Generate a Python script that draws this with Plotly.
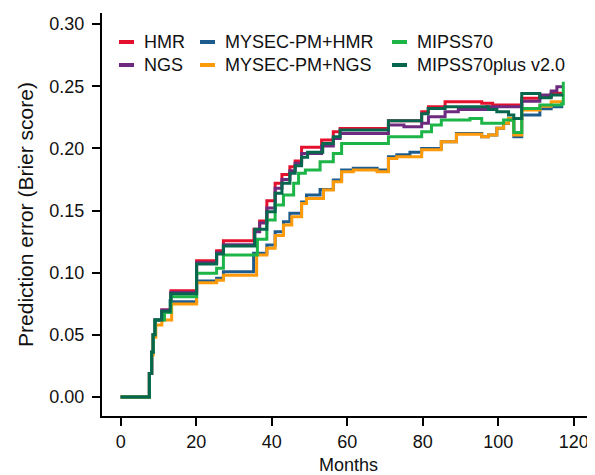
import plotly.graph_objects as go

# ---- data (months, Brier score) ----
hmr_months = [0, 7.6, 8.2, 8.6, 9.1, 10.9, 13.3, 20.1, 25.4, 27.2, 35.3, 36.8, 38.7, 40.9, 42.7,
              44.8, 46.2, 47.9, 53.2, 56.3, 58.1, 70.9, 79.7, 81.5, 85.9, 95.6, 98.5, 106.2, 111.0,
              114.0, 117.2]
hmr_vals = [0, 0.019, 0.036, 0.050, 0.062, 0.070, 0.0855, 0.1097, 0.1177, 0.1258, 0.135, 0.1416,
            0.158, 0.172, 0.179, 0.1853, 0.190, 0.2009, 0.2068, 0.2135, 0.216, 0.2223, 0.2295,
            0.2336, 0.2376, 0.2363, 0.235, 0.2403, 0.2416, 0.2445, 0.2445]

ngs_months = [0, 7.6, 8.2, 8.6, 9.1, 10.9, 13.3, 20.1, 25.4, 27.2, 35.5, 36.8, 38.7, 40.9, 42.7,
              44.8, 46.2, 47.9, 53.2, 56.3, 58.1, 70.9, 75.0, 79.7, 81.5, 85.9, 89.4, 96.9, 106.2,
              111.0, 114.0, 115.5, 117.2]
ngs_vals = [0, 0.019, 0.036, 0.050, 0.062, 0.070, 0.084, 0.108, 0.116, 0.1225, 0.133, 0.140,
            0.152, 0.168, 0.175, 0.182, 0.188, 0.196, 0.202, 0.208, 0.2121, 0.2188, 0.2175, 0.2202,
            0.2255, 0.2296, 0.2314, 0.2336, 0.2380, 0.243, 0.2462, 0.2496, 0.2496]

mysec_hmr_months = [0, 7.6, 8.2, 8.6, 9.1, 10.9, 13.3, 20.1, 25.4, 27.2, 35.2, 38.7, 40.9, 43.1,
                    44.8, 47.9, 49.2, 52.8, 56.3, 58.5, 61.6, 67.9, 70.9, 73.1, 76.6, 79.7, 84.9,
                    88.9, 95.6, 97.4, 99.6, 101.4, 102.7, 104.1, 106.2, 111.0, 114.0, 117.2]
mysec_hmr_vals = [0, 0.019, 0.036, 0.050, 0.062, 0.068, 0.0767, 0.0933, 0.0955, 0.1008, 0.1156,
                  0.1223, 0.133, 0.141, 0.1478, 0.157, 0.1625, 0.167, 0.1746, 0.1826, 0.184,
                  0.1826, 0.1933, 0.195, 0.197, 0.2, 0.2054, 0.212, 0.2094, 0.2108, 0.2162, 0.22,
                  0.2228, 0.2094, 0.2269, 0.232, 0.2336, 0.2336]

mysec_ngs_months = [0, 7.6, 8.2, 8.6, 9.3, 10.9, 13.5, 20.1, 25.4, 27.2, 36.0, 38.7, 40.9, 43.1,
                    45.3, 47.9, 49.2, 52.8, 53.7, 56.3, 58.5, 61.6, 67.9, 70.9, 73.1, 79.7, 84.9,
                    88.9, 95.6, 97.4, 99.6, 101.4, 102.7, 104.1, 106.2, 111.0, 114.0, 117.2]
mysec_ngs_vals = [0, 0.019, 0.034, 0.048, 0.058, 0.062, 0.0748, 0.092, 0.094, 0.098, 0.1142,
                  0.1196, 0.130, 0.1384, 0.145, 0.1558, 0.1598, 0.1598, 0.1665, 0.1732, 0.1813,
                  0.1826, 0.1813, 0.192, 0.1934, 0.199, 0.2054, 0.2115, 0.2094, 0.2108, 0.2162,
                  0.2202, 0.2242, 0.2108, 0.2309, 0.2340, 0.2376, 0.2376]

mipss70_months = [0, 7.6, 8.2, 8.6, 9.1, 11.6, 13.3, 20.1, 25.4, 27.2, 36.2, 38.7, 40.9, 43.1,
                  45.8, 47.1, 48.9, 52.8, 56.3, 58.5, 70.9, 79.7, 82.3, 84.9, 89.3, 92.5, 95.6,
                  99.6, 101.4, 104.1, 106.2, 111.0, 116.8, 117.2]
mipss70_vals = [0, 0.019, 0.036, 0.050, 0.062, 0.068, 0.0807, 0.0995, 0.1035, 0.1142, 0.127,
                0.1424, 0.1545, 0.1625, 0.172, 0.180, 0.1826, 0.1893, 0.196, 0.204, 0.2094,
                0.2134, 0.2188, 0.2228, 0.2228, 0.2242, 0.2202, 0.2202, 0.2228, 0.2128, 0.2322,
                0.2350, 0.2360, 0.2537]

mipss70plus_months = [0, 7.6, 8.2, 8.6, 9.1, 10.9, 13.1, 13.3, 20.1, 25.4, 27.2, 35.5, 38.7,
                      40.9, 42.7, 44.8, 46.2, 47.9, 49.5, 53.5, 56.3, 58.1, 70.9, 79.7, 81.4,
                      85.9, 97.4, 99.6, 102.7, 104.1, 106.2, 111.0, 114.0, 117.2]
mipss70plus_vals = [0, 0.019, 0.036, 0.050, 0.062, 0.069, 0.0775, 0.083, 0.107, 0.115, 0.1215,
                    0.135, 0.149, 0.164, 0.172, 0.180, 0.186, 0.193, 0.197, 0.204, 0.2094,
                    0.2148, 0.2223, 0.228, 0.2322, 0.2336, 0.2314, 0.2296, 0.2269, 0.2242,
                    0.2443, 0.2408, 0.2430, 0.2430]

x_ticks = [0, 20, 40, 60, 80, 100, 120]
y_ticks = [0.00, 0.05, 0.10, 0.15, 0.20, 0.25, 0.30]

series_names = ["HMR", "NGS", "MYSEC-PM+HMR", "MYSEC-PM+NGS", "MIPSS70", "MIPSS70plus v2.0"]
series_months = [hmr_months, ngs_months, mysec_hmr_months, mysec_ngs_months,
                 mipss70_months, mipss70plus_months]
series_vals = [hmr_vals, ngs_vals, mysec_hmr_vals, mysec_ngs_vals, mipss70_vals, mipss70plus_vals]
series_colors = ["#E4112E", "#6E2A7F", "#1F5C8E", "#FF9A0A", "#1DB548", "#07664E"]

# legend layout: (column, row) of each series
legend_slots = [(0, 0), (0, 1), (1, 0), (1, 1), (2, 0), (2, 1)]

# figure geometry (the page body adds an 8px offset, so the figure is 8px smaller)
W, H = 587, 467
L, R, T, B = 94, 0, 5, 59
pw, ph = W - L - R, H - T - B


def px_x(p):
    return (p - L) / pw


def px_y(p):
    return (H - B - p) / ph


fig = go.Figure()
for name, mx, vy, col in zip(series_names, series_months, series_vals, series_colors):
    fig.add_trace(go.Scatter(
        x=mx, y=vy, mode="lines", name=name,
        line=dict(color=col, width=3, shape="hv"),
        showlegend=False,
    ))

tick_font = dict(family="Liberation Sans, Arial, sans-serif", size=18, color="#111111")

# manual legend (short swatches, three aligned columns)
col_swatch_x = [111, 192, 384]
row_y = [34, 57]
shapes, annotations = [], []
for name, col, (c, r) in zip(series_names, series_colors, legend_slots):
    x0 = col_swatch_x[c]
    yy = row_y[r]
    shapes.append(dict(type="line", xref="paper", yref="paper",
                       x0=px_x(x0), x1=px_x(x0 + 15), y0=px_y(yy), y1=px_y(yy),
                       line=dict(color=col, width=4)))
    annotations.append(dict(xref="paper", yref="paper", x=px_x(x0 + 23), y=px_y(yy),
                            xanchor="left", yanchor="middle", text=name, showarrow=False,
                            font=tick_font))

fig.update_layout(
    width=W, height=H,
    margin=dict(l=L, r=R, t=T, b=B, autoexpand=False),
    paper_bgcolor="white", plot_bgcolor="white",
    showlegend=False,
    shapes=shapes,
    annotations=annotations,
    xaxis=dict(
        range=[-4.95, 125.6], tickvals=x_ticks, ticktext=[str(t) for t in x_ticks],
        showgrid=False, zeroline=False, showline=True, linecolor="black", linewidth=2,
        ticks="outside", ticklen=8, tickwidth=2, tickcolor="black", tickfont=tick_font,
        automargin=False,
        title=dict(text="Months", font=dict(family="Liberation Sans, Arial, sans-serif",
                                            size=18, color="#111111"), standoff=8),
    ),
    yaxis=dict(
        range=[-0.0153, 0.309], tickvals=y_ticks, ticktext=[f"{t:.2f}" for t in y_ticks],
        showgrid=False, zeroline=False, showline=True, linecolor="black", linewidth=2,
        ticks="outside", ticklen=8, tickwidth=2, tickcolor="black", tickfont=tick_font,
        ticklabelstandoff=4, automargin=False,
        title=dict(text="Prediction error (Brier score)",
                   font=dict(family="Liberation Sans, Arial, sans-serif", size=21,
                             color="#111111"), standoff=10),
    ),
)

fig.write_html("out.html")
